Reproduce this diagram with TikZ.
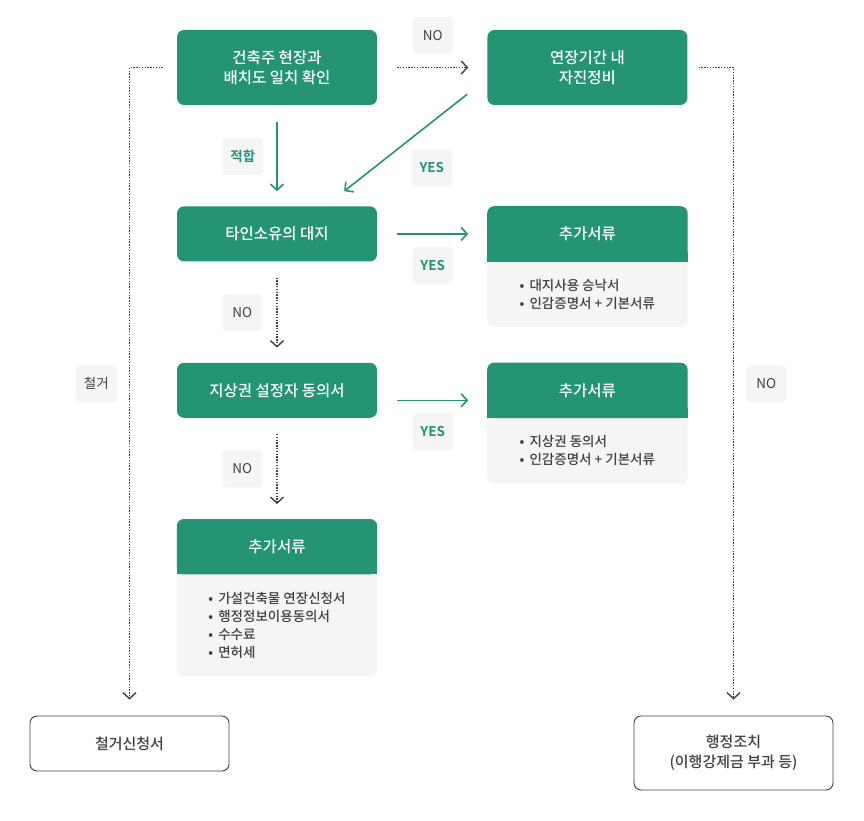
\documentclass[tikz,border=0pt]{standalone}
\usepackage{fontspec}
\setmainfont{Noto Sans CJK KR Medium}[BoldFont={Noto Sans CJK KR Bold}]
\newfontfamily\plainfont{Noto Sans CJK KR}
\usetikzlibrary{positioning,arrows.meta,backgrounds}
\definecolor{flowgreen}{HTML}{249475}
\definecolor{tagfill}{HTML}{F5F5F5}
\definecolor{cardfill}{HTML}{F5F5F5}
\definecolor{ink}{HTML}{404040}
\newcommand{\bul}{•\hspace{5pt}}

\begin{document}
\begin{tikzpicture}[x=1pt, y=-1pt,
  flow/.style={rectangle, fill=flowgreen, text=white,
               minimum width=200pt, minimum height=55pt,
               align=center, font=\fontsize{15.5}{20}\selectfont, rounded corners=7pt},
  cardhead/.style={rectangle, text=white, minimum width=200pt, minimum height=55pt,
               font=\fontsize{15.5}{20}\selectfont},
  cardbody/.style={rectangle, text=ink, minimum width=200pt,
               align=left, font=\fontsize{13.5}{18}\selectfont},
  endbox/.style={rectangle, draw=ink, line width=0.9pt, fill=white, text=ink,
               minimum width=199pt, align=center,
               font=\fontsize{15}{20}\selectfont, rounded corners=7pt},
  tag/.style={rectangle, fill=tagfill, text=ink, minimum width=40pt, minimum height=37pt,
               inner xsep=8pt, rounded corners=4pt, font=\plainfont\fontsize{13.5}{15}\selectfont},
  yes/.style={tag, text=flowgreen, font=\fontsize{13.5}{15}\selectfont\bfseries},
  arr/.style={-{Straight Barb[length=6pt, width=13pt]}, line width=1.6pt, flowgreen},
  darr/.style={-{Straight Barb[length=6pt, width=13pt]}, line width=1.4pt, ink,
               dash pattern=on 1.4pt off 1.4pt},
]
\useasboundingbox (0,0) rectangle (864,821);

% Main column
\node[flow, minimum height=75pt] (site) at (277,67.5) {건축주 현장과\\배치도 일치 확인};
\node[flow, minimum height=75pt, right=110pt of site] (fix) {연장기간 내\\자진정비};
\node[flow, below=101pt of site] (owner) {타인소유의 대지};
\node[flow, below=101pt of owner] (surface) {지상권 설정자 동의서};

% Document cards
\node[cardhead, right=110pt of owner] (docsA-head) {추가서류};
\node[cardbody, below=0pt of docsA-head, minimum height=65pt] (docsA-body)
  {\bul 대지사용 승낙서\\\bul 인감증명서 + 기본서류};
\node[cardhead, right=110pt of surface] (docsB-head) {추가서류};
\node[cardbody, below=0pt of docsB-head, minimum height=65pt] (docsB-body)
  {\bul 지상권 동의서\\\bul 인감증명서 + 기본서류};
\node[cardhead, below=101pt of surface] (docsC-head) {추가서류};
\node[cardbody, below=0pt of docsC-head, minimum height=101pt] (docsC-body)
  {\bul 가설건축물 연장신청서\\\bul 행정정보이용동의서\\\bul 수수료\\\bul 면허세};

\begin{scope}[on background layer]
  \foreach \c in {docsA,docsB,docsC} {
    \fill[cardfill, rounded corners=7pt] (\c-head.north west) rectangle (\c-body.south east);
    \fill[flowgreen, rounded corners=7pt] (\c-head.north west) rectangle (\c-head.south east);
    \fill[flowgreen] ([yshift=10pt]\c-head.south west) rectangle (\c-head.south east);
  }
\end{scope}

% End boxes
\node[endbox, minimum height=55pt] (demol) at (129.5,743.5) {철거신청서};
\node[endbox, minimum height=74pt] (admin) at (733.5,753) {행정조치\\(이행강제금 부과 등)};

% Arrows
\draw[arr] ([yshift=-17pt]site.south) -- node[yes, midway, left=13pt] {적합} ([yshift=15pt]owner.north);
\draw[darr] ([xshift=20pt]site.east) -- node[tag, midway, above=13pt] {NO} ([xshift=-19pt]fix.west);
\draw[arr] ([xshift=-20pt, yshift=11pt]fix.south west) -- node[yes, midway, below right=6pt and 5pt] {YES}
  ([xshift=-33pt, yshift=15pt]owner.north east);
\draw[arr] ([xshift=20pt]owner.east) -- node[yes, midway, below=12pt] {YES} ([xshift=-19pt]docsA-head.west);
\draw[darr] ([yshift=-16pt]owner.south) -- node[tag, midway, left=14pt] {NO} ([yshift=15pt]surface.north);
\draw[arr] ([xshift=20pt, yshift=-10pt]surface.east) -- node[yes, midway, below=12pt] {YES}
  ([xshift=-19pt, yshift=-10pt]docsB-head.west);
\draw[darr] ([yshift=-16pt]surface.south) -- node[tag, midway, left=14pt] {NO} ([yshift=15pt]docsC-head.north);

% Outer branches
\draw[darr] ([xshift=-14pt]site.west) -| node[tag, pos=0.75, left=12pt] {철거} ([yshift=16pt]demol.north);
\draw[darr] ([xshift=11pt]fix.east) -| node[tag, pos=0.75, right=12pt] {NO} ([yshift=16pt]admin.north);

\end{tikzpicture}
\end{document}
